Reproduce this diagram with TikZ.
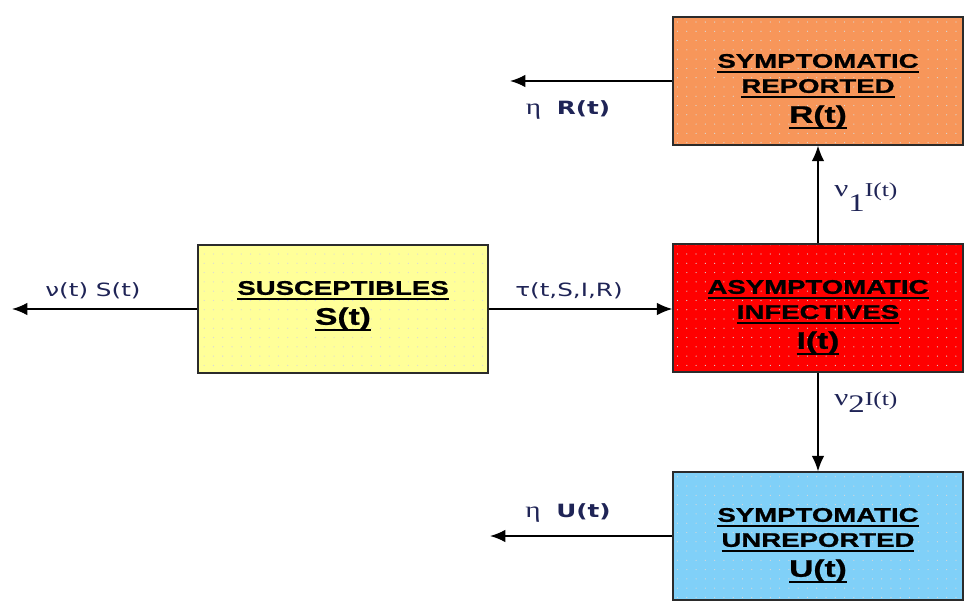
\documentclass[tikz,border=0pt]{standalone}
\usepackage{fontspec}
\usepackage{tikz}
\usetikzlibrary{arrows.meta,patterns.meta}
\newfontfamily\boxfont{Liberation Sans}[FakeStretch=1.4,BoldFeatures={FakeBold=1}]
\newfontfamily\lblfont{DejaVu Sans}[FakeStretch=1.35]
\newfontfamily\serfont{Liberation Serif}[FakeStretch=1.3]
\definecolor{susyel}{HTML}{FFFF99}
\definecolor{infred}{HTML}{FF0000}
\definecolor{reporg}{HTML}{F7965A}
\definecolor{unrblue}{HTML}{80D0F8}
\definecolor{lblnavy}{HTML}{1F2456}
\definecolor{edge}{HTML}{2B2B2B}
\tikzset{
  comp/.style ={draw=edge, line width=0.9pt, preaction={fill=#1}, inner sep=0pt,
                minimum width=7.25cm, minimum height=3.2cm,
                pattern={Dots[distance=6.6pt,radius=0.45pt]},
                pattern color=white!70!gray},
  ctxt/.style ={font=\boxfont\bfseries\fontsize{14}{17.8}\selectfont,
                align=center, inner sep=0pt},
  rate/.style ={font=\lblfont\fontsize{13}{15}\selectfont, text=lblnavy, inner sep=0pt},
  flow/.style ={draw=black, line width=1.2pt, -{Latex[length=11pt,width=9pt]}},
}
\newcommand{\ulin}[1]{\leavevmode\setbox0=\hbox{#1}\rlap{\rule[-0.26em]{\wd0}{0.1em}}\box0}
\newcommand{\varsz}{\fontsize{17}{20}\selectfont}
\newcommand{\etaS}{{\serfont\fontsize{16}{16}\selectfont η}}
\newcommand{\nuI}[2]{{\serfont\fontsize{17}{17}\selectfont ν}%
  \raisebox{#2}{\serfont\fontsize{18}{18}\selectfont #1}%
  {\serfont\fontsize{14}{14}\selectfont I(t)}}

\begin{document}
\begin{tikzpicture}[x=0.025cm,y=-0.025cm]
  \useasboundingbox (0,0) rectangle (980,616);
  % compartments
  \node[comp=susyel]  (sus) at (343,309) {};
  \node[comp=infred]  (inf) at (818,308) {};
  \node[comp=reporg]  (rep) at (818,81)  {};
  \node[comp=unrblue] (unr) at (818,536) {};
  \node[ctxt] (susT) at (343,306)   {\ulin{SUSCEPTIBLES}\\[3.5pt]{\varsz\ulin{S(t)}}};
  \node[ctxt] (infT) at (818,317.5) {\ulin{ASYMPTOMATIC}\\\ulin{INFECTIVES}\\[3.5pt]{\varsz\ulin{I(t)}}};
  \node[ctxt] (repT) at (818,91.5)  {\ulin{SYMPTOMATIC}\\\ulin{REPORTED}\\[3.5pt]{\varsz\ulin{R(t)}}};
  \node[ctxt] (unrT) at (818,545.5) {\ulin{SYMPTOMATIC}\\\ulin{UNREPORTED}\\[3.5pt]{\varsz\ulin{U(t)}}};
  % free ends
  \coordinate (sOut) at (12,309);
  \coordinate (rOut) at (510,81);
  \coordinate (uOut) at (490,536);
  \draw[flow] (sus.west) -- (sOut);
  \draw[flow] (sus.east) -- (sus.east -| inf.west);
  \draw[flow] (inf.north) -- (rep.south);
  \draw[flow] (inf.south) -- (unr.north);
  \draw[flow] (rep.west) -- (rOut);
  \draw[flow] (unr.west) -- (uOut);
  % rates
  \node[rate,anchor=base] (sLbl) at (93,297)  {ν(t) S(t)};
  \node[rate,anchor=base] (tLbl) at (569,296) {τ(t,S,I,R)};
  \node[rate,anchor=base] (rLbl) at (568,115) {\etaS\ \ \textbf{R(t)}};
  \node[rate,anchor=base] (uLbl) at (568,517) {\etaS\ \ \textbf{U(t)}};
  \node[rate,anchor=base west] (n1Lbl) at (834,197) {\nuI{1}{-10pt}};
  \node[rate,anchor=base west] (n2Lbl) at (834,405) {\nuI{2}{-5pt}};
\end{tikzpicture}
\end{document}
